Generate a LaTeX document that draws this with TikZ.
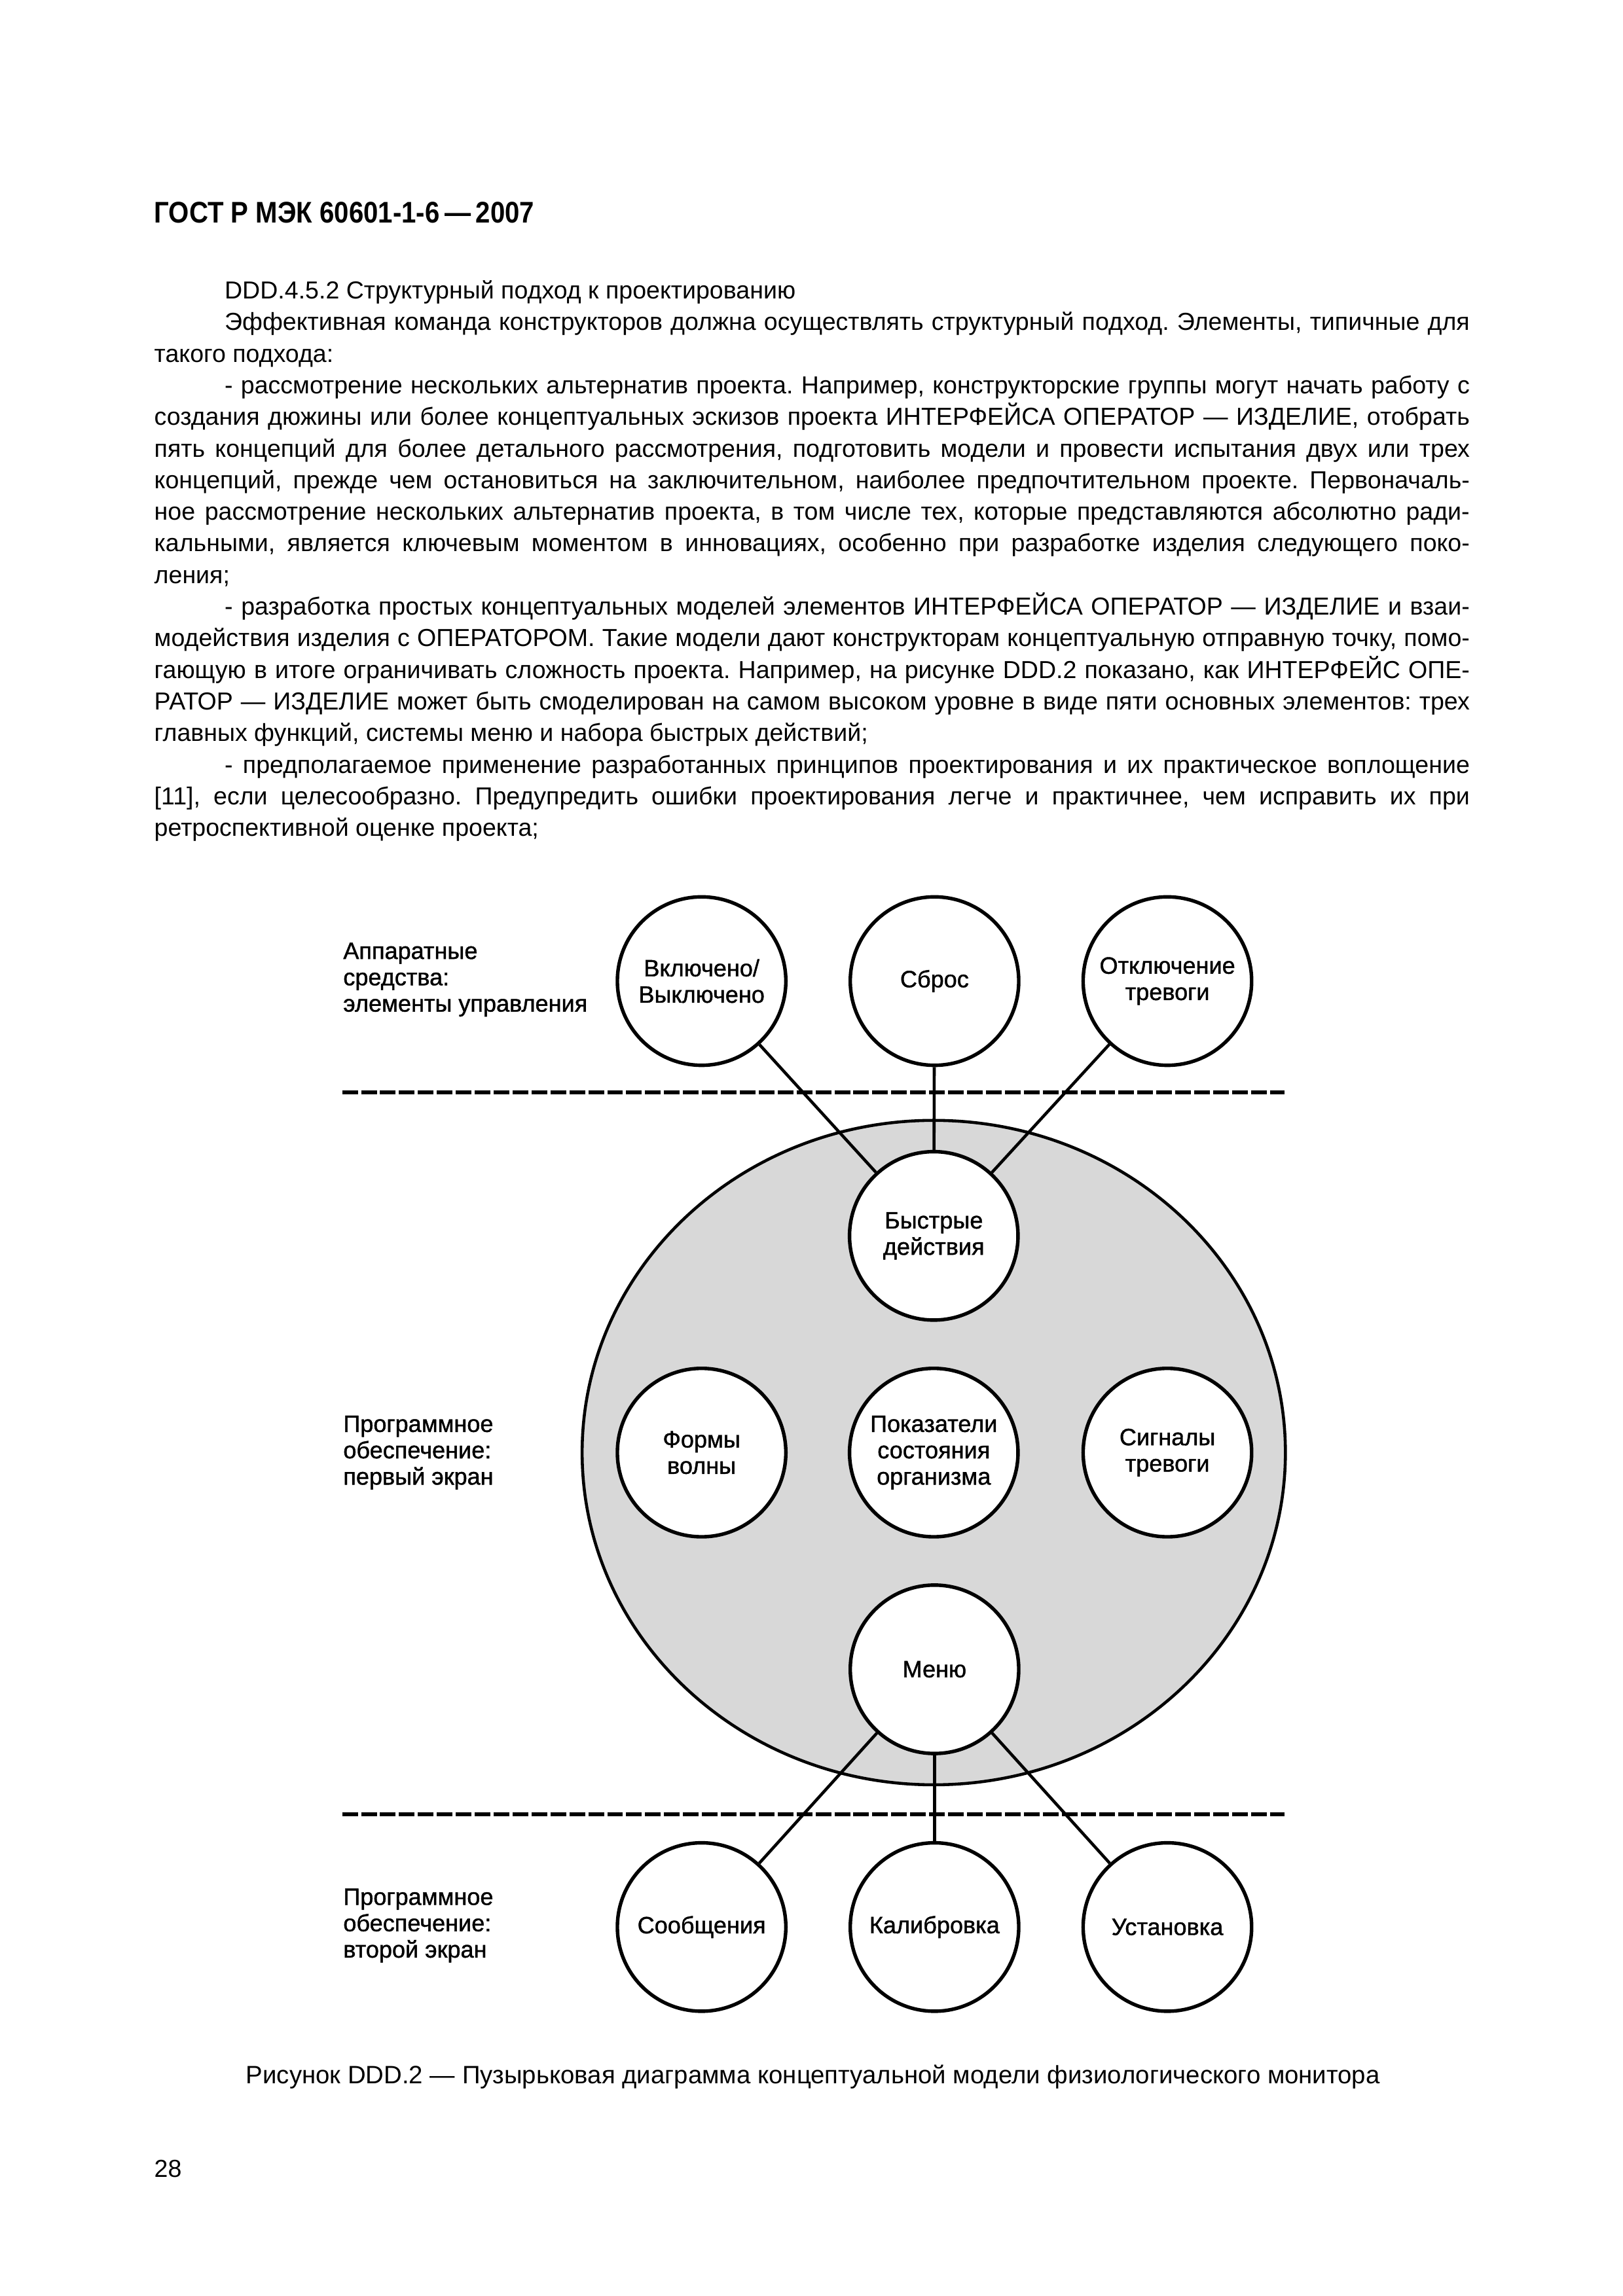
\documentclass[tikz,border=0pt]{standalone}
\usepackage{fontspec}
\setmainfont{Liberation Sans}
\newfontfamily\headfont[FakeStretch=0.88]{Liberation Sans}
\newfontfamily\diagfont[FakeBold=1.2]{Liberation Sans}
\usetikzlibrary{shapes.geometric}

\definecolor{screengray}{RGB}{216,216,216}
% строки абзаца: полная и с отступом, выключка по ширине
\newcommand{\fullln}[1]{\makebox[170.2mm][s]{#1}}
\newcommand{\indln}[1]{\makebox[161.1mm][s]{#1}}
\frenchspacing

\begin{document}
\begin{tikzpicture}[x=0.18953mm, y=-0.18953mm,
    txt/.style={anchor=base west, inner sep=0, font=\fontsize{9.05}{11.6}\selectfont},
    lbl/.style={anchor=west, inner sep=0, align=left, font=\diagfont\fontsize{8.7}{9.7}\selectfont},
    bubble/.style={circle, draw, line width=1.3pt, fill=white, minimum size=21.8mm,
        inner sep=0, align=center, font=\diagfont\fontsize{8.7}{9.7}\selectfont},
    screen/.style={ellipse, draw, line width=1.1pt, fill=screengray,
        minimum width=91mm, minimum height=86mm, inner sep=0},
    link/.style={line width=1.1pt},
    divider/.style={line width=1.45pt, dash pattern=on 2.03mm off 0.42mm}]
    \useasboundingbox (0,0) rectangle (1108,1568);

    \node[anchor=base west, inner sep=0, font=\headfont\bfseries\fontsize{11}{13}\selectfont] (head) at (105,152)
        {ГОСТ Р МЭК 60601-1-6\,—\,2007};

    % текст над рисунком
    \node[txt] (t1)  at (153,204)   {DDD.4.5.2 Структурный подход к проектированию};
    \node[txt] (t2)  at (153,225.6) {\indln{Эффективная команда конструкторов должна осуществлять структурный подход. Элементы, типичные для}};
    \node[txt] (t3)  at (105,247.2) {такого подхода:};
    \node[txt] (t4)  at (153,268.8) {\indln{- рассмотрение нескольких альтернатив проекта. Например, конструкторские группы могут начать работу с}};
    \node[txt] (t5)  at (105,290.4) {\fullln{создания дюжины или более концептуальных эскизов проекта ИНТЕРФЕЙСА ОПЕРАТОР — ИЗДЕЛИЕ, отобрать}};
    \node[txt] (t6)  at (105,312)   {\fullln{пять концепций для более детального рассмотрения, подготовить модели и провести испытания двух или трех}};
    \node[txt] (t7)  at (105,333.6) {\fullln{концепций, прежде чем остановиться на заключительном, наиболее предпочтительном проекте. Первоначаль-}};
    \node[txt] (t8)  at (105,355.2) {\fullln{ное рассмотрение нескольких альтернатив проекта, в том числе тех, которые представляются абсолютно ради-}};
    \node[txt] (t9)  at (105,376.8) {\fullln{кальными, является ключевым моментом в инновациях, особенно при разработке изделия следующего поко-}};
    \node[txt] (t10) at (105,398.4) {ления;};
    \node[txt] (t11) at (153,420)   {\indln{- разработка простых концептуальных моделей элементов ИНТЕРФЕЙСА ОПЕРАТОР — ИЗДЕЛИЕ и взаи-}};
    \node[txt] (t12) at (105,441.6) {\fullln{модействия изделия с ОПЕРАТОРОМ. Такие модели дают конструкторам концептуальную отправную точку, помо-}};
    \node[txt] (t13) at (105,463.2) {\fullln{гающую в итоге ограничивать сложность проекта. Например, на рисунке DDD.2 показано, как ИНТЕРФЕЙС ОПЕ-}};
    \node[txt] (t14) at (105,484.8) {\fullln{РАТОР — ИЗДЕЛИЕ может быть смоделирован на самом высоком уровне в виде пяти основных элементов: трех}};
    \node[txt] (t15) at (105,506.4) {главных функций, системы меню и набора быстрых действий;};
    \node[txt] (t16) at (153,528)   {\indln{- предполагаемое применение разработанных принципов проектирования и их практическое воплощение}};
    \node[txt] (t17) at (105,549.6) {\fullln{[11], если целесообразно. Предупредить ошибки проектирования легче и практичнее, чем исправить их при}};
    \node[txt] (t18) at (105,571.2) {ретроспективной оценке проекта;};

    % первый экран
    \node[screen] (scr) at (637.5,992) {};

    \draw[divider] (233.6,746) -- (877,746);
    \draw[divider] (233.6,1239) -- (877,1239);

    \node[lbl] (hw)   at (234,669)  {Аппаратные\\средства:\\элементы управления};
    \node[lbl] (sw1)  at (234,992)  {Программное\\обеспечение:\\первый экран};
    \node[lbl] (sw2)  at (234,1315) {Программное\\обеспечение:\\второй экран};

    \node[bubble] (onoff)   at (479,670)   {Включено/\\Выключено};
    \node[bubble] (reset)   at (638,670)   {Сброс};
    \node[bubble] (silence) at (797,670)   {Отключение\\тревоги};

    \node[bubble] (quick)   at (637.5,844) {Быстрые\\действия};
    \node[bubble] (waves)   at (479,992)   {Формы\\волны};
    \node[bubble] (vitals)  at (637.5,992) {Показатели\\состояния\\организма};
    \node[bubble] (alarms)  at (797,992)   {Сигналы\\тревоги};
    \node[bubble] (menu)    at (638,1140)  {Меню};

    \node[bubble] (msgs)    at (479,1316)  {Сообщения};
    \node[bubble] (calib)   at (638,1316)  {Калибровка};
    \node[bubble] (setup)   at (797,1316)  {Установка};

    \draw[link] (onoff) -- (quick);
    \draw[link] (reset) -- (quick);
    \draw[link] (silence) -- (quick);
    \draw[link] (menu) -- (msgs);
    \draw[link] (menu) -- (calib);
    \draw[link] (menu) -- (setup);

    \node[anchor=base, inner sep=0, font=\fontsize{9.25}{11}\selectfont] (cap) at (555,1423)
        {Рисунок DDD.2 — Пузырьковая диаграмма концептуальной модели физиологического монитора};
    \node[txt] (page) at (105,1487) {28};
\end{tikzpicture}
\end{document}
